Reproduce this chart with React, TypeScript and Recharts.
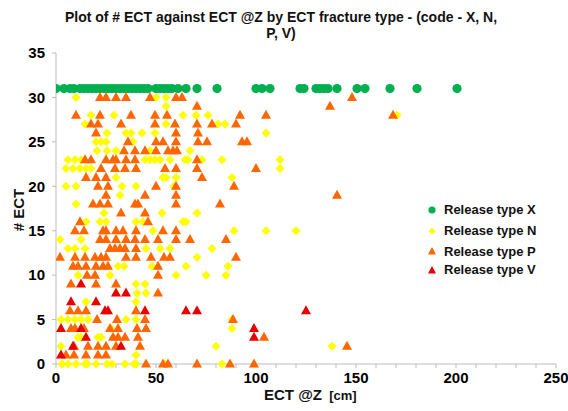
import React from 'react';
import { ScatterChart, Scatter, XAxis, YAxis } from 'recharts';

// values: [ECT @Z (cm), # ECT]
const releaseX: number[][] = [
  [0, 31], [4, 31], [7, 31], [9, 31], [12, 31], [14, 31], [16, 31], [18, 31], [20, 31], [22, 31],
  [24, 31], [26, 31], [28, 31], [30, 31], [32, 31], [34, 31], [36, 31], [38, 31], [40, 31], [42, 31],
  [44, 31], [46, 31], [50, 31], [52, 31], [54, 31], [56, 31], [58, 31], [61, 31], [65, 31], [70.5, 31],
  [80.5, 31], [100, 31], [103, 31], [107, 31], [122, 31], [124, 31], [130, 31], [132, 31], [134, 31],
  [136, 31], [140.5, 31], [150.5, 31], [154.5, 31], [167, 31], [180.5, 31], [200.5, 31],
];

const releaseN: number[][] = [
  [10, 30], [50, 30], [55, 30], [55, 29],
  [17.5, 28], [29, 28], [63.5, 28], [70, 28], [76, 28], [170.5, 28],
  [14.5, 27], [55, 27], [81, 27], [84.5, 27],
  [25.5, 26], [35, 26], [37.5, 26], [43, 26], [49.5, 26], [105, 26],
  [20, 25], [22.5, 25], [25, 25], [38.5, 25],
  [20.5, 24], [25.5, 24], [30, 24], [47, 24], [67, 24],
  [6, 23], [9.5, 23], [12.5, 23], [44.5, 23], [47, 23], [49.5, 23], [52, 23], [57, 23], [64.5, 23],
  [66, 23], [73, 23], [83, 23], [112, 23],
  [5, 22], [8.5, 22], [12, 22], [15, 22], [17.5, 22], [112, 22],
  [30, 21], [53.5, 21], [55, 21], [60, 21], [88, 21],
  [5, 20], [10, 20], [33, 20], [40, 20], [59, 20],
  [32, 19], [10, 18],
  [24, 17], [53, 17], [70.5, 17],
  [15, 16], [22, 16], [25, 16], [40, 16], [43.5, 16], [63.5, 16], [65, 16],
  [48.5, 15], [89, 15], [105, 15], [120, 15],
  [2, 14], [12.5, 14],
  [6, 13], [9.5, 13], [14.5, 13], [45, 13], [52, 13], [57, 13], [78, 13],
  [70.5, 12],
  [31, 11], [34, 11], [48, 11], [65, 11], [86, 11],
  [11, 10], [27, 10], [60, 10], [75, 10], [85, 10],
  [40, 9], [44.5, 9], [40.5, 8], [45, 8], [15, 7], [40, 7],
  [2.5, 5], [6, 5], [9.5, 5], [12.5, 5], [16, 5], [35, 5], [40, 5], [88, 5],
  [27.5, 4], [88, 4],
  [11, 3], [12.5, 3], [21, 3], [22.5, 3],
  [2.5, 2], [80, 2], [138, 2], [40, 1],
  [3, 0], [6, 0], [10, 0], [14.5, 0], [15.5, 0], [20, 0], [25.5, 0], [28, 0], [34.5, 0], [39, 0],
  [40, 0], [54.5, 0], [83, 0],
];

const releaseP: number[][] = [
  [22, 30], [25, 30], [30, 30], [35, 30], [47, 30], [60, 30], [63, 30], [148, 30],
  [70.5, 29], [137, 29],
  [10, 28], [22, 28], [37.5, 28], [49.5, 28], [55.5, 28], [92, 28], [105, 28], [168.5, 28],
  [17.5, 27], [21, 27], [32.5, 27], [49.5, 27], [59.5, 27], [70.5, 27], [78, 27], [90, 27],
  [20, 26], [60, 26], [71, 26],
  [36, 25], [50, 25], [53.5, 25], [60, 25], [71, 25], [75.5, 25], [93, 25], [95.5, 25],
  [34, 24], [39.5, 24], [44.5, 24], [50, 24], [56, 24], [58.5, 24], [60.5, 24],
  [14.5, 23], [17.5, 23], [25, 23], [28.5, 23], [30, 23], [35, 23], [39.5, 23], [70.5, 23],
  [22.5, 22], [29.5, 22], [34.5, 22], [40, 22], [54.5, 22], [60, 22], [70.5, 22], [100, 22],
  [15, 21], [20, 21], [25, 21], [73, 21],
  [21, 20], [26, 20], [50, 20], [60, 20], [89, 20],
  [25, 19], [44.5, 19], [60, 19], [140.5, 19],
  [18.5, 18], [22, 18], [26, 18], [39.5, 18], [41, 18], [60, 18], [82, 18],
  [32.5, 17], [44.5, 17], [12, 16], [46, 16],
  [9.5, 15], [14, 15], [23.5, 15], [25, 15], [30, 15], [33.5, 15], [40, 15], [53.5, 15], [60, 15],
  [22, 14], [25, 14], [30, 14], [35, 14], [39.5, 14], [44.5, 14], [51, 14], [60, 14], [67, 14], [85, 14],
  [27, 13], [29.5, 13], [32, 13], [34.5, 13], [40, 13],
  [2, 12], [9.5, 12], [14.5, 12], [19.5, 12], [22.5, 12], [25, 12], [35, 12], [40, 12], [47.5, 12],
  [54, 12], [57, 12], [90, 12],
  [8.5, 11], [11, 11], [15, 11], [20, 11], [23.5, 11], [26, 11], [51, 11],
  [15.5, 10], [19.5, 10], [51, 10],
  [7.5, 9], [20, 9], [30, 9], [51, 8],
  [7, 6], [11, 6], [15, 6], [40, 6],
  [20.5, 5], [30.5, 5], [44.5, 5], [88.5, 5],
  [7.5, 4], [9.5, 4], [14, 4], [27, 4], [31, 4], [40.5, 4], [45, 4],
  [28.5, 3], [31, 3], [34.5, 3], [41, 3], [104, 3],
  [9, 2], [16, 2], [21, 2], [25, 2], [30, 2], [42, 2], [145.5, 2],
  [5, 1], [9, 1], [15, 1], [21, 1], [25, 1],
  [45, 0], [53.5, 0], [56, 0], [70.5, 0], [87, 0], [99, 0],
];

const releaseV: number[][] = [
  [12.5, 9], [30, 8], [35, 8], [7.5, 7], [20, 7],
  [24.5, 6], [26, 6], [44.5, 6], [65, 6], [70.5, 6], [125, 6],
  [2.5, 4], [12.5, 4], [99, 4], [15, 3], [99, 3], [8.5, 2], [32.5, 2], [2.5, 1],
];

const xTicks = [0, 10, 20, 30, 40, 50, 60, 70, 80, 90, 100, 110, 120, 130, 140, 150, 160, 170, 180, 190, 200, 210, 220, 230, 240, 250];
const yTicks = [0, 5, 10, 15, 20, 25, 30, 35];

const legendItems = [
  { label: 'Release type X', color: '#00B050', kind: 'circle' },
  { label: 'Release type N', color: '#FFFF00', kind: 'diamond' },
  { label: 'Release type P', color: '#FF6600', kind: 'triangle' },
  { label: 'Release type V', color: '#E60000', kind: 'triangle' },
];

const toPoints = (rows: number[][]) => rows.map(([x, y]) => ({ x, y }));

const FONT = 'Arial, "Liberation Sans", sans-serif';

const CircleShape = (props: any) => <circle cx={props.cx} cy={props.cy} r={4.6} fill="#00B050" />;

const DiamondShape = (props: any) => {
  const { cx, cy } = props;
  return <polygon points={`${cx},${cy - 4.5} ${cx + 4.5},${cy} ${cx},${cy + 4.5} ${cx - 4.5},${cy}`} fill="#FFFF00" />;
};

const triangle = (color: string) => (props: any) => {
  const { cx, cy } = props;
  return <polygon points={`${cx},${cy - 5.5} ${cx + 5},${cy + 3.5} ${cx - 5},${cy + 3.5}`} fill={color} />;
};

const TriP = triangle('#FF6600');
const TriV = triangle('#E60000');

const LegendMark = ({ kind, color }: { kind: string; color: string }) => (
  <svg width={10} height={10} style={{ display: 'block' }}>
    {kind === 'circle' && <circle cx={5} cy={5} r={3.6} fill={color} />}
    {kind === 'diamond' && <polygon points="5,1.5 8.5,5 5,8.5 1.5,5" fill={color} />}
    {kind === 'triangle' && <polygon points="5,1 9,8.5 1,8.5" fill={color} />}
  </svg>
);

export default function App() {
  const tickStyle = { fill: '#000', fontSize: 15, fontWeight: 'bold' as const, fontFamily: FONT };
  return (
    <div style={{ position: 'absolute', left: 0, top: 0, width: 568, height: 411, background: '#fff', fontFamily: FONT }}>
      <div style={{ position: 'absolute', left: 0, top: 9, width: 568, textAlign: 'center', fontSize: 14, fontWeight: 'bold', lineHeight: '16px', color: '#111' }}>
        <div style={{ marginLeft: -6 }}>Plot of # ECT against ECT @Z by ECT fracture type - (code - X, N,</div>
        <div style={{ marginLeft: -6 }}>P, V)</div>
      </div>
      <ScatterChart width={568} height={411} margin={{ top: 53, right: 12, bottom: 0, left: 0 }}>
        <XAxis
          type="number"
          dataKey="x"
          domain={[0, 250]}
          ticks={xTicks}
          interval={0}
          tickFormatter={(v: number) => (v % 50 === 0 ? String(v) : '')}
          height={47}
          tick={tickStyle}
          tickSize={4}
          tickMargin={4}
          stroke="#bbb"
          allowDataOverflow
        />
        <YAxis
          type="number"
          dataKey="y"
          domain={[0, 35]}
          ticks={yTicks}
          interval={0}
          width={56}
          tick={tickStyle}
          tickSize={4}
          tickMargin={7}
          stroke="#bbb"
        />
        <Scatter data={toPoints(releaseX)} shape={CircleShape} isAnimationActive={false} />
        <Scatter data={toPoints(releaseN)} shape={DiamondShape} isAnimationActive={false} />
        <Scatter data={toPoints(releaseP)} shape={TriP} isAnimationActive={false} />
        <Scatter data={toPoints(releaseV)} shape={TriV} isAnimationActive={false} />
      </ScatterChart>
      <div style={{ position: 'absolute', left: 264, top: 386, fontWeight: 'bold', color: '#111', whiteSpace: 'pre' }}>
        <span style={{ fontSize: 15 }}>ECT @Z</span>
        <span style={{ fontSize: 13 }}>  [cm]</span>
      </div>
      <div style={{ position: 'absolute', left: 18, top: 210, transform: 'translate(-50%, -50%) rotate(-90deg)', fontSize: 15, fontWeight: 'bold', color: '#111', whiteSpace: 'nowrap' }}>
        # ECT
      </div>
      <div style={{ position: 'absolute', left: 427, top: 199 }}>
        {legendItems.map((it, i) => (
          <div key={it.label} style={{ display: 'flex', alignItems: 'center', height: i === 2 ? 20 : 21, marginTop: i === 3 ? -2 : 0 }}>
            <LegendMark kind={it.kind} color={it.color} />
            <span style={{ marginLeft: 7, fontSize: 13, fontWeight: 'bold', color: '#111' }}>{it.label}</span>
          </div>
        ))}
      </div>
    </div>
  );
}
